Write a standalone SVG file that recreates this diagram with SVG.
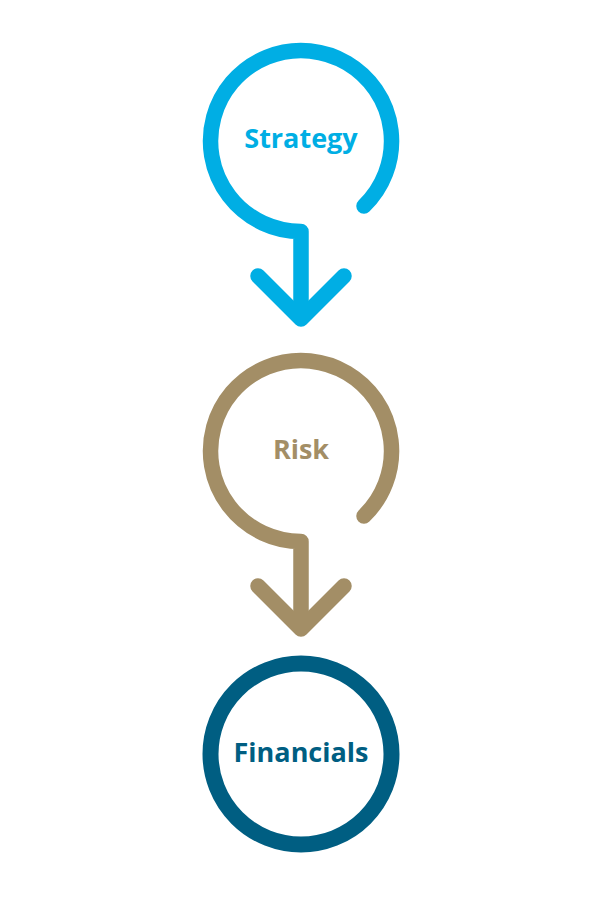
<svg xmlns="http://www.w3.org/2000/svg" width="600" height="899" viewBox="0 0 600 899">
<style>
.ln{fill:none;stroke-width:15.5;stroke-linecap:round;stroke-linejoin:round}
.lb{font-family:"Open Sans","Noto Sans",sans-serif;font-weight:700;font-size:27px;text-anchor:middle}
</style>
<rect width="600" height="899" fill="#fff"/>
<g id="strategy">
<text class="lb" x="301" y="148" fill="#00AEE4">Strategy</text>
</g>
<g id="risk">
<text class="lb" x="301" y="459" fill="#A38E66">Risk</text>
</g>
<g id="financials">
<circle cx="301" cy="754" r="90.5" fill="none" stroke="#005E82" stroke-width="16"/>
<text class="lb" x="301" y="762" fill="#005E82">Financials</text>
</g>
<g id="connectors">
<path class="ln" stroke="#00AEE4" d="M364,206 A90.5,90.5 0 1 0 301,231.5 L301,318"/>
<path class="ln" stroke="#00AEE4" d="M258,276 L301,319 L344,276"/>
<path class="ln" stroke="#A38E66" d="M364,516 A90.5,90.5 0 1 0 301,541.5 L301,628"/>
<path class="ln" stroke="#A38E66" d="M258,586 L301,629 L344,586"/>
</g>
</svg>
